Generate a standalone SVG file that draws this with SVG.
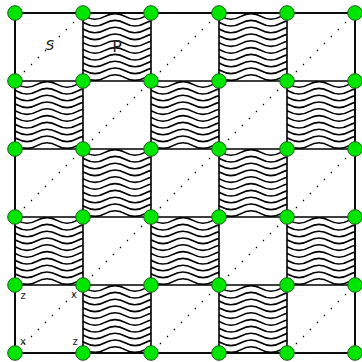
<svg xmlns="http://www.w3.org/2000/svg" xmlns:xlink="http://www.w3.org/1999/xlink" width="362" height="362" viewBox="0 0 362 362">
<style>
.sq{fill:#fff;stroke:#000;stroke-width:1.6}
.wv{fill:none;stroke:#000;stroke-width:1.6}
.dg{fill:none;stroke:#000;stroke-width:1.3;stroke-dasharray:1.3 8.6;stroke-linecap:butt}
.nd{fill:#00e600;stroke:#1a5a1a;stroke-width:1}
.lb{font-family:"DejaVu Sans",sans-serif;fill:#222}
</style>
<defs>
<clipPath id="c"><rect x="0" y="0" width="68" height="68"/></clipPath>
<g id="waves" clip-path="url(#c)">
<path class="wv" d="M-18,3.4 q10,-5.6 20,0 t20,0 t20,0 t20,0 t20,0 M-18,10.2 q10,-5.6 20,0 t20,0 t20,0 t20,0 t20,0 M-18,17 q10,-5.6 20,0 t20,0 t20,0 t20,0 t20,0 M-18,23.8 q10,-5.6 20,0 t20,0 t20,0 t20,0 t20,0 M-18,30.6 q10,-5.6 20,0 t20,0 t20,0 t20,0 t20,0 M-18,37.4 q10,-5.6 20,0 t20,0 t20,0 t20,0 t20,0 M-18,44.2 q10,-5.6 20,0 t20,0 t20,0 t20,0 t20,0 M-18,51 q10,-5.6 20,0 t20,0 t20,0 t20,0 t20,0 M-18,57.8 q10,-5.6 20,0 t20,0 t20,0 t20,0 t20,0 M-18,64.6 q10,-5.6 20,0 t20,0 t20,0 t20,0 t20,0"/>
</g>
<path id="diag" class="dg" d="M2,66 L66,2"/>
</defs>
<g id="tiles">
<rect class="sq" x="15" y="13" width="340" height="340"/>
<use xlink:href="#waves" x="83" y="13"/><use xlink:href="#waves" x="219" y="13"/>
<use xlink:href="#waves" x="15" y="81"/><use xlink:href="#waves" x="151" y="81"/><use xlink:href="#waves" x="287" y="81"/>
<use xlink:href="#waves" x="83" y="149"/><use xlink:href="#waves" x="219" y="149"/>
<use xlink:href="#waves" x="15" y="217"/><use xlink:href="#waves" x="151" y="217"/><use xlink:href="#waves" x="287" y="217"/>
<use xlink:href="#waves" x="83" y="285"/><use xlink:href="#waves" x="219" y="285"/>
<use xlink:href="#diag" x="15" y="13"/><use xlink:href="#diag" x="151" y="13"/><use xlink:href="#diag" x="287" y="13"/>
<use xlink:href="#diag" x="83" y="81"/><use xlink:href="#diag" x="219" y="81"/>
<use xlink:href="#diag" x="15" y="149"/><use xlink:href="#diag" x="151" y="149"/><use xlink:href="#diag" x="287" y="149"/>
<use xlink:href="#diag" x="83" y="217"/><use xlink:href="#diag" x="219" y="217"/>
<use xlink:href="#diag" x="15" y="285"/><use xlink:href="#diag" x="151" y="285"/><use xlink:href="#diag" x="287" y="285"/>
</g>
<g id="connectors" fill="none" stroke="#000" stroke-width="1.6">
<path d="M15,13H355M15,81H355M15,149H355M15,217H355M15,285H355M15,353H355M15,13V353M83,13V353M151,13V353M219,13V353M287,13V353M355,13V353"/>
</g>
<g id="labels">
<text class="lb" x="50" y="50" font-size="14" font-style="italic" text-anchor="middle">S</text>
<text class="lb" x="117" y="52" font-size="16" text-anchor="middle">P</text>
<text class="lb" x="23" y="299" font-size="10" text-anchor="middle">z</text>
<text class="lb" x="74" y="298" font-size="10" text-anchor="middle">x</text>
<text class="lb" x="23" y="345" font-size="10" text-anchor="middle">x</text>
<text class="lb" x="75" y="345" font-size="10" text-anchor="middle">z</text>
</g>
<g id="n00"><circle class="nd" cx="15" cy="13" r="7.3"/></g>
<g id="n01"><circle class="nd" cx="83" cy="13" r="7.3"/></g>
<g id="n02"><circle class="nd" cx="151" cy="13" r="7.3"/></g>
<g id="n03"><circle class="nd" cx="219" cy="13" r="7.3"/></g>
<g id="n04"><circle class="nd" cx="287" cy="13" r="7.3"/></g>
<g id="n05"><circle class="nd" cx="355" cy="13" r="7.3"/></g>
<g id="n10"><circle class="nd" cx="15" cy="81" r="7.3"/></g>
<g id="n11"><circle class="nd" cx="83" cy="81" r="7.3"/></g>
<g id="n12"><circle class="nd" cx="151" cy="81" r="7.3"/></g>
<g id="n13"><circle class="nd" cx="219" cy="81" r="7.3"/></g>
<g id="n14"><circle class="nd" cx="287" cy="81" r="7.3"/></g>
<g id="n15"><circle class="nd" cx="355" cy="81" r="7.3"/></g>
<g id="n20"><circle class="nd" cx="15" cy="149" r="7.3"/></g>
<g id="n21"><circle class="nd" cx="83" cy="149" r="7.3"/></g>
<g id="n22"><circle class="nd" cx="151" cy="149" r="7.3"/></g>
<g id="n23"><circle class="nd" cx="219" cy="149" r="7.3"/></g>
<g id="n24"><circle class="nd" cx="287" cy="149" r="7.3"/></g>
<g id="n25"><circle class="nd" cx="355" cy="149" r="7.3"/></g>
<g id="n30"><circle class="nd" cx="15" cy="217" r="7.3"/></g>
<g id="n31"><circle class="nd" cx="83" cy="217" r="7.3"/></g>
<g id="n32"><circle class="nd" cx="151" cy="217" r="7.3"/></g>
<g id="n33"><circle class="nd" cx="219" cy="217" r="7.3"/></g>
<g id="n34"><circle class="nd" cx="287" cy="217" r="7.3"/></g>
<g id="n35"><circle class="nd" cx="355" cy="217" r="7.3"/></g>
<g id="n40"><circle class="nd" cx="15" cy="285" r="7.3"/></g>
<g id="n41"><circle class="nd" cx="83" cy="285" r="7.3"/></g>
<g id="n42"><circle class="nd" cx="151" cy="285" r="7.3"/></g>
<g id="n43"><circle class="nd" cx="219" cy="285" r="7.3"/></g>
<g id="n44"><circle class="nd" cx="287" cy="285" r="7.3"/></g>
<g id="n45"><circle class="nd" cx="355" cy="285" r="7.3"/></g>
<g id="n50"><circle class="nd" cx="15" cy="353" r="7.3"/></g>
<g id="n51"><circle class="nd" cx="83" cy="353" r="7.3"/></g>
<g id="n52"><circle class="nd" cx="151" cy="353" r="7.3"/></g>
<g id="n53"><circle class="nd" cx="219" cy="353" r="7.3"/></g>
<g id="n54"><circle class="nd" cx="287" cy="353" r="7.3"/></g>
<g id="n55"><circle class="nd" cx="355" cy="353" r="7.3"/></g>
</svg>
